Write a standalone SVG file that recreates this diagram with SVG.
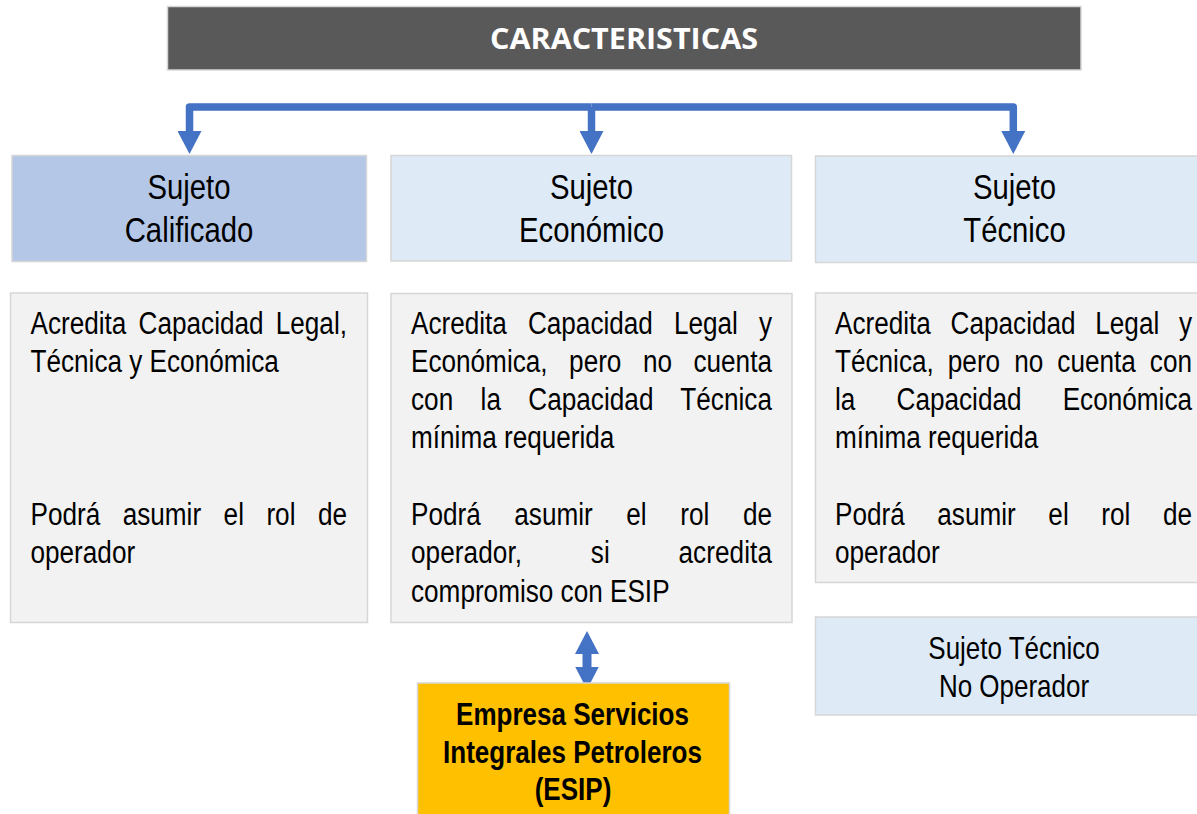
<svg xmlns="http://www.w3.org/2000/svg" width="1197" height="814" viewBox="0 0 1197 814">
<style>
.box{stroke:#d6d6d6;stroke-width:1.5}
.hdr{font-family:"Liberation Sans",Arial,sans-serif;font-size:35.5px;fill:#000;text-anchor:middle}
.txt{font-family:"Liberation Sans",Arial,sans-serif;font-size:31.5px;fill:#000}
.mid{text-anchor:middle}
.esip{font-family:"Liberation Sans",Arial,sans-serif;font-size:31px;font-weight:bold;fill:#000;text-anchor:middle}
.title{font-family:"Open Sans","Liberation Sans",sans-serif;font-size:28px;font-weight:bold;fill:#fff;text-anchor:middle}
.conn{fill:none;stroke:#4472C4;stroke-width:7.5;stroke-linejoin:round}
</style>
<defs>
<marker id="ah" viewBox="0 0 23 24" refX="0.5" refY="12" markerWidth="23" markerHeight="24" markerUnits="userSpaceOnUse" orient="auto-start-reverse">
<path d="M0,0 L23,12 L0,24 Z" fill="#4472C4"/>
</marker>
</defs>
<rect width="1197" height="814" fill="#fff"/>

<g id="title">
<rect class="box" x="167.5" y="6.5" width="913.5" height="63.5" fill="#595959" stroke="#c4c4c4"/>
<text class="title" x="624" y="48.5" textLength="268" lengthAdjust="spacingAndGlyphs">CARACTERISTICAS</text>
</g>

<g id="connectors">
<path class="conn" d="M591.5 107 H189.5 V131.5" marker-end="url(#ah)"/>
<path class="conn" d="M591.5 107 H1013.3 V131.5" marker-end="url(#ah)"/>
<path class="conn" d="M591.5 107 V131.5" marker-end="url(#ah)"/>
<path class="conn" style="stroke-width:9" d="M587 653.5 V667" marker-start="url(#ah)" marker-end="url(#ah)"/>
</g>

<g id="sujeto-calificado">
<rect class="box" x="12" y="155.5" width="354.5" height="106" fill="#B4C7E7"/>
<text class="hdr" transform="translate(189 199) scale(0.825 1)">Sujeto</text>
<text class="hdr" transform="translate(189 242) scale(0.825 1)">Calificado</text>
</g>

<g id="sujeto-economico">
<rect class="box" x="391" y="155.5" width="400.5" height="105.5" fill="#DEEBF7"/>
<text class="hdr" transform="translate(591.5 199) scale(0.825 1)">Sujeto</text>
<text class="hdr" transform="translate(591.5 242) scale(0.825 1)">Económico</text>
</g>

<g id="sujeto-tecnico">
<rect class="box" x="815.5" y="156" width="400" height="106.5" fill="#DEEBF7"/>
<text class="hdr" transform="translate(1014.5 199) scale(0.825 1)">Sujeto</text>
<text class="hdr" transform="translate(1014.5 242) scale(0.825 1)">Técnico</text>
</g>

<g id="desc-calificado">
<rect class="box" x="10.5" y="293" width="357" height="329.5" fill="#F2F2F2"/>
<text class="txt" transform="translate(30.5 333.5) scale(0.83 1)" style="word-spacing:5.94px" textLength="381.3" lengthAdjust="spacing">Acredita Capacidad Legal,</text>
<text class="txt" transform="translate(30.5 371.8) scale(0.83 1)">Técnica y Económica</text>
<text class="txt" transform="translate(30.5 525) scale(0.83 1)" style="word-spacing:18.29px" textLength="381.3" lengthAdjust="spacing">Podrá asumir el rol de</text>
<text class="txt" transform="translate(30.5 563.3) scale(0.83 1)">operador</text>
</g>

<g id="desc-economico">
<rect class="box" x="391" y="293.5" width="401" height="329" fill="#F2F2F2"/>
<text class="txt" transform="translate(411 333.5) scale(0.83 1)" style="word-spacing:16.57px" textLength="434.9" lengthAdjust="spacing">Acredita Capacidad Legal y</text>
<text class="txt" transform="translate(411 371.8) scale(0.83 1)" style="word-spacing:17.14px" textLength="434.9" lengthAdjust="spacing">Económica, pero no cuenta</text>
<text class="txt" transform="translate(411 410.1) scale(0.83 1)" style="word-spacing:24.17px" textLength="434.9" lengthAdjust="spacing">con la Capacidad Técnica</text>
<text class="txt" transform="translate(411 448.4) scale(0.83 1)">mínima requerida</text>
<text class="txt" transform="translate(411 525) scale(0.83 1)" style="word-spacing:31.69px" textLength="434.9" lengthAdjust="spacing">Podrá asumir el rol de</text>
<text class="txt" transform="translate(411 563.3) scale(0.83 1)" style="word-spacing:73.89px" textLength="434.9" lengthAdjust="spacing">operador, si acredita</text>
<text class="txt" transform="translate(411 601.6) scale(0.83 1)">compromiso con ESIP</text>
</g>

<g id="desc-tecnico">
<rect class="box" x="815.5" y="293" width="400" height="289.5" fill="#F2F2F2"/>
<text class="txt" transform="translate(835 333.5) scale(0.83 1)" style="word-spacing:14.97px" textLength="430.1" lengthAdjust="spacing">Acredita Capacidad Legal y</text>
<text class="txt" transform="translate(835 371.8) scale(0.83 1)" style="word-spacing:8.17px" textLength="430.1" lengthAdjust="spacing">Técnica, pero no cuenta con</text>
<text class="txt" transform="translate(835 410.1) scale(0.83 1)" style="word-spacing:40.84px" textLength="430.1" lengthAdjust="spacing">la Capacidad Económica</text>
<text class="txt" transform="translate(835 448.4) scale(0.83 1)">mínima requerida</text>
<text class="txt" transform="translate(835 525) scale(0.83 1)" style="word-spacing:30.49px" textLength="430.1" lengthAdjust="spacing">Podrá asumir el rol de</text>
<text class="txt" transform="translate(835 563.3) scale(0.83 1)">operador</text>
</g>

<g id="tecnico-no-operador">
<rect class="box" x="815.5" y="617" width="400" height="98" fill="#DEEBF7"/>
<text class="txt mid" transform="translate(1014 658.5) scale(0.825 1)">Sujeto Técnico</text>
<text class="txt mid" transform="translate(1014 697) scale(0.825 1)">No Operador</text>
</g>

<g id="esip">
<rect class="box" x="417.5" y="683" width="312" height="150" fill="#FFC000"/>
<text class="esip" transform="translate(572.5 725) scale(0.84 1)">Empresa Servicios</text>
<text class="esip" transform="translate(572.5 763) scale(0.84 1)">Integrales Petroleros</text>
<text class="esip" transform="translate(573 800) scale(0.84 1)">(ESIP)</text>
</g>
</svg>
